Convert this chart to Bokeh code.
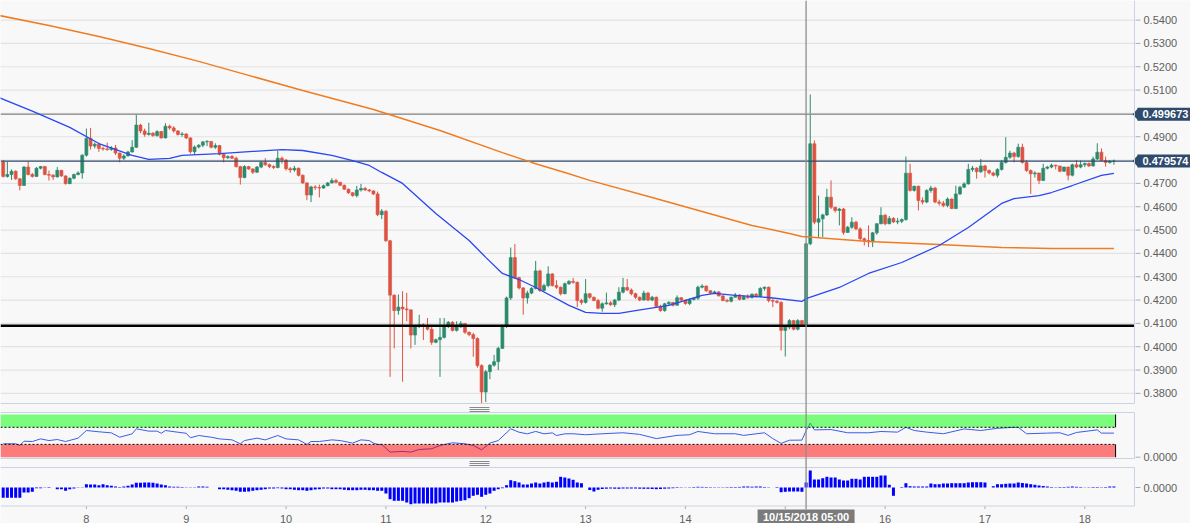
from bokeh.plotting import figure
from bokeh.models import Range1d, ColumnDataSource
from bokeh.core.properties import value
from bokeh.embed import file_html
from bokeh.resources import INLINE

# ---------------- DATA (hourly candles, hour 0 = 10/07/2018 04:00) ----------------
first_open = 0.4792
closes = [
    0.4730, 0.4738, 0.4752, 0.4720, 0.4691, 0.4770, 0.4738, 0.4730, 0.4765, 0.4772, 0.4738, 0.4735,
    0.4728, 0.4756, 0.4732, 0.4699, 0.4722, 0.4738, 0.4745, 0.4821, 0.4893, 0.4860, 0.4868, 0.4850,
    0.4848, 0.4845, 0.4852, 0.4830, 0.4808, 0.4818, 0.4835, 0.4855, 0.4950, 0.4925, 0.4910, 0.4915,
    0.4905, 0.4922, 0.4895, 0.4945, 0.4938, 0.4925, 0.4910, 0.4912, 0.4895, 0.4836, 0.4856, 0.4864,
    0.4878, 0.4880, 0.4855, 0.4862, 0.4825, 0.4810, 0.4815, 0.4808, 0.4772, 0.4725, 0.4772, 0.4762,
    0.4748, 0.4770, 0.4790, 0.4780, 0.4772, 0.4768, 0.4808, 0.4800, 0.4763, 0.4758, 0.4765, 0.4735,
    0.4702, 0.4650, 0.4685, 0.4682, 0.4680, 0.4690, 0.4702, 0.4712, 0.4705, 0.4692, 0.4675, 0.4660,
    0.4648, 0.4672, 0.4678, 0.4672, 0.4668, 0.4655, 0.4566, 0.4581, 0.4454, 0.4221, 0.4155, 0.4170,
    0.4162, 0.4158, 0.4050, 0.4087, 0.4094, 0.4088, 0.4075, 0.4019, 0.4030, 0.4040, 0.4087, 0.4105,
    0.4070, 0.4085, 0.4100, 0.4062, 0.4052, 0.4035, 0.3919, 0.3806, 0.3893, 0.3921, 0.3936, 0.3993,
    0.4087, 0.4209, 0.4382, 0.4296, 0.4252, 0.4209, 0.4230, 0.4250, 0.4325, 0.4241, 0.4262, 0.4312,
    0.4262, 0.4255, 0.4227, 0.4270, 0.4280, 0.4276, 0.4198, 0.4190, 0.4227, 0.4212, 0.4198, 0.4165,
    0.4184, 0.4188, 0.4180, 0.4200, 0.4234, 0.4254, 0.4243, 0.4227, 0.4212, 0.4200, 0.4230, 0.4200,
    0.4212, 0.4173, 0.4155, 0.4184, 0.4190, 0.4178, 0.4210, 0.4200, 0.4185, 0.4202, 0.4208, 0.4255,
    0.4260, 0.4240, 0.4230, 0.4235, 0.4218, 0.4198, 0.4195, 0.4212, 0.4222, 0.4203, 0.4215, 0.4210,
    0.4225, 0.4215, 0.4250, 0.4255, 0.4198, 0.4195, 0.4190, 0.4070, 0.4084, 0.4112, 0.4075, 0.4112,
    0.4095, 0.4441, 0.4870, 0.4534, 0.4548, 0.4565, 0.4641, 0.4598, 0.4584, 0.4590, 0.4490, 0.4512,
    0.4534, 0.4505, 0.4463, 0.4455, 0.4450, 0.4488, 0.4527, 0.4563, 0.4527, 0.4550, 0.4535, 0.4538,
    0.4545, 0.4744, 0.4670, 0.4688, 0.4627, 0.4620, 0.4670, 0.4680, 0.4620, 0.4615, 0.4605, 0.4633,
    0.4592, 0.4655, 0.4684, 0.4698, 0.4760, 0.4765, 0.4750, 0.4775, 0.4755, 0.4745, 0.4735, 0.4760,
    0.4790, 0.4812, 0.4830, 0.4815, 0.4855, 0.4790, 0.4755, 0.4741, 0.4745, 0.4713, 0.4765, 0.4770,
    0.4778, 0.4775, 0.4752, 0.4770, 0.4735, 0.4780, 0.4770, 0.4780, 0.4785, 0.4775, 0.4805, 0.4834,
    0.4798, 0.4790, 0.4795, 0.4796,
]
highs = [
    0.4800, 0.4792, 0.4760, 0.4756, 0.4722, 0.4775, 0.4795, 0.4745, 0.4770, 0.4775, 0.4775, 0.4755,
    0.4740, 0.4770, 0.4758, 0.4735, 0.4726, 0.4742, 0.4752, 0.4825, 0.4935, 0.4938, 0.4875, 0.4875,
    0.4858, 0.4875, 0.4860, 0.4865, 0.4832, 0.4825, 0.4840, 0.4885, 0.4998, 0.4955, 0.4935, 0.4960,
    0.4920, 0.4928, 0.4925, 0.4958, 0.4952, 0.4945, 0.4928, 0.4920, 0.4915, 0.4898, 0.4862, 0.4868,
    0.4882, 0.4885, 0.4880, 0.4872, 0.4865, 0.4830, 0.4820, 0.4822, 0.4815, 0.4775, 0.4778, 0.4775,
    0.4765, 0.4775, 0.4795, 0.4808, 0.4785, 0.4778, 0.4840, 0.4815, 0.4805, 0.4770, 0.4775, 0.4768,
    0.4738, 0.4705, 0.4690, 0.4692, 0.4695, 0.4695, 0.4706, 0.4722, 0.4720, 0.4705, 0.4695, 0.4678,
    0.4662, 0.4690, 0.4698, 0.4685, 0.4676, 0.4670, 0.4665, 0.4590, 0.4585, 0.4458, 0.4224, 0.4224,
    0.4238, 0.4231, 0.4160, 0.4094, 0.4137, 0.4100, 0.4123, 0.4085, 0.4035, 0.4123, 0.4123, 0.4110,
    0.4109, 0.4109, 0.4110, 0.4100, 0.4065, 0.4060, 0.4040, 0.3925, 0.3900, 0.3925, 0.3965, 0.4000,
    0.4095, 0.4215, 0.4425, 0.4440, 0.4300, 0.4255, 0.4240, 0.4255, 0.4368, 0.4330, 0.4270, 0.4345,
    0.4315, 0.4285, 0.4258, 0.4275, 0.4285, 0.4295, 0.4280, 0.4205, 0.4290, 0.4230, 0.4215, 0.4205,
    0.4190, 0.4232, 0.4195, 0.4205, 0.4255, 0.4295, 0.4290, 0.4250, 0.4232, 0.4215, 0.4240, 0.4235,
    0.4218, 0.4215, 0.4180, 0.4188, 0.4195, 0.4192, 0.4220, 0.4212, 0.4202, 0.4208, 0.4212, 0.4262,
    0.4268, 0.4262, 0.4242, 0.4240, 0.4238, 0.4220, 0.4205, 0.4215, 0.4230, 0.4225, 0.4220, 0.4225,
    0.4228, 0.4230, 0.4255, 0.4258, 0.4258, 0.4205, 0.4200, 0.4195, 0.4092, 0.4118, 0.4115, 0.4118,
    0.4115, 0.4445, 0.5081, 0.4884, 0.4648, 0.4570, 0.4677, 0.4713, 0.4600, 0.4595, 0.4595, 0.4518,
    0.4555, 0.4540, 0.4512, 0.4468, 0.4520, 0.4492, 0.4530, 0.4598, 0.4570, 0.4560, 0.4555, 0.4552,
    0.4550, 0.4815, 0.4784, 0.4690, 0.4690, 0.4640, 0.4675, 0.4690, 0.4685, 0.4630, 0.4625, 0.4640,
    0.4635, 0.4690, 0.4690, 0.4705, 0.4784, 0.4775, 0.4770, 0.4805, 0.4780, 0.4760, 0.4750, 0.4765,
    0.4800, 0.4898, 0.4840, 0.4835, 0.4870, 0.4870, 0.4800, 0.4760, 0.4752, 0.4745, 0.4784, 0.4775,
    0.4785, 0.4780, 0.4775, 0.4772, 0.4772, 0.4785, 0.4800, 0.4798, 0.4790, 0.4790, 0.4815, 0.4872,
    0.4850, 0.4815, 0.4800, 0.4802,
]
lows = [
    0.4725, 0.4725, 0.4715, 0.4715, 0.4670, 0.4690, 0.4735, 0.4725, 0.4728, 0.4760, 0.4735, 0.4712,
    0.4715, 0.4725, 0.4728, 0.4695, 0.4697, 0.4718, 0.4735, 0.4720, 0.4815, 0.4845, 0.4850, 0.4835,
    0.4840, 0.4840, 0.4840, 0.4822, 0.4790, 0.4800, 0.4815, 0.4832, 0.4852, 0.4915, 0.4900, 0.4905,
    0.4900, 0.4900, 0.4892, 0.4893, 0.4930, 0.4918, 0.4905, 0.4900, 0.4890, 0.4828, 0.4822, 0.4850,
    0.4855, 0.4860, 0.4850, 0.4848, 0.4820, 0.4790, 0.4805, 0.4805, 0.4768, 0.4695, 0.4722, 0.4758,
    0.4740, 0.4745, 0.4765, 0.4775, 0.4765, 0.4762, 0.4765, 0.4785, 0.4755, 0.4745, 0.4750, 0.4730,
    0.4698, 0.4628, 0.4620, 0.4672, 0.4640, 0.4678, 0.4688, 0.4700, 0.4700, 0.4688, 0.4672, 0.4655,
    0.4643, 0.4640, 0.4665, 0.4668, 0.4662, 0.4650, 0.4560, 0.4547, 0.4450, 0.3871, 0.3993, 0.4137,
    0.3850, 0.4109, 0.3993, 0.4008, 0.4080, 0.4029, 0.4070, 0.4008, 0.4015, 0.3871, 0.4035, 0.4080,
    0.4065, 0.4065, 0.4080, 0.4055, 0.4045, 0.3957, 0.3910, 0.3756, 0.3763, 0.3861, 0.3914, 0.3900,
    0.3990, 0.4080, 0.4200, 0.4290, 0.4245, 0.4137, 0.4185, 0.4225, 0.4245, 0.4235, 0.4238, 0.4255,
    0.4258, 0.4248, 0.4220, 0.4225, 0.4265, 0.4270, 0.4170, 0.4180, 0.4185, 0.4205, 0.4195, 0.4160,
    0.4150, 0.4180, 0.4175, 0.4170, 0.4195, 0.4228, 0.4238, 0.4220, 0.4205, 0.4195, 0.4198, 0.4195,
    0.4195, 0.4170, 0.4150, 0.4150, 0.4178, 0.4172, 0.4175, 0.4195, 0.4180, 0.4178, 0.4198, 0.4200,
    0.4250, 0.4235, 0.4225, 0.4226, 0.4215, 0.4195, 0.4190, 0.4190, 0.4210, 0.4198, 0.4200, 0.4205,
    0.4208, 0.4210, 0.4212, 0.4240, 0.4190, 0.4170, 0.4185, 0.3984, 0.3958, 0.4075, 0.4070, 0.4070,
    0.4088, 0.4088, 0.4435, 0.4525, 0.4470, 0.4470, 0.4560, 0.4590, 0.4575, 0.4520, 0.4480, 0.4488,
    0.4505, 0.4500, 0.4455, 0.4434, 0.4427, 0.4427, 0.4480, 0.4525, 0.4520, 0.4525, 0.4530, 0.4525,
    0.4530, 0.4540, 0.4665, 0.4665, 0.4584, 0.4610, 0.4615, 0.4660, 0.4615, 0.4605, 0.4598, 0.4598,
    0.4590, 0.4590, 0.4650, 0.4680, 0.4695, 0.4750, 0.4720, 0.4745, 0.4725, 0.4738, 0.4730, 0.4725,
    0.4755, 0.4785, 0.4805, 0.4790, 0.4810, 0.4785, 0.4750, 0.4655, 0.4725, 0.4698, 0.4710, 0.4760,
    0.4765, 0.4760, 0.4748, 0.4750, 0.4713, 0.4730, 0.4765, 0.4765, 0.4770, 0.4770, 0.4772, 0.4800,
    0.4795, 0.4772, 0.4785, 0.4780,
]

# moving averages (hour, value)
fast_ma_hours = [-1, 7, 16, 23, 31, 35, 40, 43, 52, 60, 67, 72, 79, 84, 88, 91, 96, 104, 112, 116,
                 120, 124, 128, 136, 140, 144, 148, 152, 160, 168, 171, 176, 184, 192, 193, 201, 208,
                 216, 225, 232, 240, 243, 249, 252, 257, 264, 267]
fast_ma_vals = [0.5068, 0.5010, 0.4940, 0.4871, 0.4820, 0.4803, 0.4807, 0.4820, 0.4828, 0.4837,
                0.4845, 0.4841, 0.4820, 0.4798, 0.4777, 0.4747, 0.4700, 0.4571, 0.4455, 0.4383,
                0.4314, 0.4288, 0.4254, 0.4177, 0.4147, 0.4143, 0.4143, 0.4155, 0.4177, 0.4220,
                0.4229, 0.4220, 0.4211, 0.4194, 0.4206, 0.4254, 0.4314, 0.4361, 0.4434, 0.4511,
                0.4614, 0.4635, 0.4648, 0.4661, 0.4691, 0.4734, 0.4743]
slow_ma_hours = [-1, 11, 23, 35, 47, 59, 72, 89, 105, 120, 127, 135, 141, 156, 168, 180, 189, 192,
                 208, 225, 240, 252, 267]
slow_ma_vals = [0.5420, 0.5377, 0.5330, 0.5278, 0.5223, 0.5163, 0.5098, 0.5017, 0.4927, 0.4832,
                0.4790, 0.4747, 0.4713, 0.4640, 0.4580, 0.4520, 0.4485, 0.4472, 0.4451, 0.4438,
                0.4425, 0.4421, 0.4421]

# oscillator (hour, value 0..100)
osc_hours = [0, 3, 4, 5, 7, 9, 11, 13, 15, 18, 20, 23, 26, 28, 31, 32, 35, 37, 38, 39, 42, 44, 45,
             47, 50, 52, 55, 57, 58, 61, 63, 66, 68, 71, 73, 74, 76, 79, 81, 84, 86, 88, 89, 90, 91,
             93, 96, 98, 100, 103, 105, 108, 111, 113, 115, 117, 119, 122, 124, 126, 128, 130, 132,
             133, 135, 137, 140, 144, 149, 153, 157, 162, 165, 167, 171, 176, 178, 183, 185, 187,
             189, 192, 193, 194, 195, 199, 203, 208, 211, 215, 217, 219, 222, 226, 231, 235, 239,
             243, 244, 246, 251, 254, 256, 258, 263, 264, 267]
osc_vals = [31.4, 31.4, 27.4, 37.5, 36.7, 42.9, 39.0, 41.4, 36.7, 44.6, 62.5, 59.5, 57.0, 46.8,
            54.7, 66.5, 61.0, 61.0, 56.0, 62.5, 58.5, 56.0, 45.5, 50.8, 46.8, 42.9, 40.6, 31.4,
            39.0, 44.6, 40.6, 50.8, 42.9, 40.6, 29.9, 36.7, 36.7, 40.6, 39.0, 33.0, 40.6, 39.0,
            33.0, 29.9, 29.9, 12.0, 13.5, 12.0, 18.0, 19.8, 27.4, 33.8, 31.4, 27.4, 17.3, 33.0,
            39.0, 66.5, 58.5, 54.7, 60.3, 54.7, 57.0, 50.8, 54.7, 54.9, 52.6, 54.9, 57.2, 53.4,
            43.6, 51.1, 52.6, 60.2, 54.9, 54.9, 51.1, 57.2, 43.6, 32.3, 39.8, 40.0, 62.0, 79.8,
            64.0, 64.7, 57.2, 57.2, 60.2, 58.7, 70.0, 62.5, 58.7, 54.9, 66.2, 62.5, 67.7, 70.0,
            70.0, 54.9, 56.4, 57.2, 51.1, 57.9, 64.0, 56.4, 56.4]

# histogram, one value per hour (units of 0.0001)
hist = [
    -10.3, -10.3, -10.3, -10.3, -10.3, -5.0, -5.0, -4.3, -0.7, -0.7, -0.3, 0.5,
    0.0, -1.7, -1.7, -3.3, -1.7, -1.0, -0.3, 0.3, 3.3, 3.0, 3.0, 2.3,
    3.3, 2.3, 1.7, 1.0, 0.5, 1.0, 1.7, 3.0, 4.7, 4.7, 5.0, 5.0,
    4.7, 4.0, 3.0, 2.3, 1.0, 0.7, 0.7, 0.5, 0.3, 0.3, 0.2, 1.0,
    1.0, 0.8, 0.0, 0.0, -1.7, -1.7, -2.3, -2.7, -3.3, -4.3, -4.3, -4.0,
    -3.3, -2.7, -2.3, -1.7, -1.0, -1.0, -0.7, -1.0, -1.7, -1.7, -2.3, -2.7,
    -2.7, -3.3, -2.7, -2.0, -1.7, -1.0, -1.0, -1.7, -1.7, -1.7, -2.3, -2.7,
    -2.7, -2.7, -2.3, -2.3, -2.7, -2.7, -3.3, -3.3, -6.0, -11.7, -13.3, -13.3,
    -13.3, -15.0, -16.7, -16.0, -16.0, -16.0, -16.0, -16.0, -16.0, -15.0, -15.0, -15.0,
    -15.0, -14.0, -13.3, -12.7, -10.7, -8.3, -7.3, -9.3, -7.3, -6.0, -3.3, -1.7,
    -0.7, 2.3, 7.3, 6.3, 5.0, 3.0, 3.0, 4.0, 5.0, 4.0, 5.0, 5.7,
    5.0, 5.7, 10.7, 10.0, 9.0, 7.7, 5.0, 4.3, 0.0, -2.5, -4.0, -2.3,
    -1.5, -1.2, -1.0, -1.2, -1.3, -1.0, -1.0, -1.0, -1.0, -1.2, -1.3, -1.3,
    -1.5, -1.7, -1.5, -1.2, -1.0, -0.7, -0.5, -0.3, 0.2, 0.3, 0.5, 0.7,
    0.6, 0.5, 0.4, 0.3, 0.3, 0.3, 0.4, 0.5, 0.5, 0.6, 1.0, 1.0,
    0.8, 1.0, 1.0, 0.5, 0.3, 0.0, -0.5, -4.7, -4.3, -4.0, -4.0, -4.0,
    -4.3, 5.0, 17.0, 8.0, 8.0, 9.3, 10.7, 10.0, 10.0, 8.0, 7.0, 7.0,
    8.7, 8.7, 8.0, 10.7, 10.7, 10.7, 10.7, 12.0, 12.0, 2.7, -8.3, 0.0,
    0.5, 4.3, 1.3, 1.0, 1.0, 1.0, 1.0, 4.0, 3.3, 3.3, 4.0, 4.0,
    4.3, 4.3, 4.3, 4.3, 5.0, 5.3, 5.3, 5.3, 5.0, 0.0, 1.3, 3.3,
    3.3, 3.7, 4.0, 4.0, 5.0, 4.5, 4.0, 3.3, 2.7, 2.0, 1.5, 1.0,
    0.5, 0.3, 0.5, 0.5, 0.7, 1.0, 0.7, 0.5, 0.2, -0.3, -0.5, -0.5,
    0.3, 0.5, 1.0, 1.0,
]

price_ticks = [0.38, 0.39, 0.40, 0.41, 0.42, 0.43, 0.44, 0.45, 0.46, 0.47, 0.48, 0.49,
               0.50, 0.51, 0.52, 0.53, 0.54]
day_tick_hours = [20, 44, 68, 92, 116, 140, 164, 188, 212, 236, 260]
day_tick_labels = ["8", "9", "10", "11", "12", "13", "14", "", "16", "17", "18"]
level_high = 0.499673
level_last = 0.479574
level_support = 0.4090
osc_upper, osc_lower, osc_top = 70, 30, 100
cross_hour = 193
cross_text = "10/15/2018 05:00"

# ---------------- STYLE / GEOMETRY ----------------
BG = "#f8f8f8"
FRAME = "#cbd2e3"
GREEN = "#2b8a6b"
RED = "#dc5341"
NAVY = "#2e4a6d"
LBL = "#5e5e5e"
TICKC = "#a6adbd"
FONT = "Liberation Sans"
W, H = 1190, 523
PLOT_R = 1134            # right edge of the panels (px)
MAIN_B = 403             # bottom of price panel (px)
P1_T, P1_B = 412, 458    # oscillator panel (px)
P2_T, P2_B = 467, 505.5  # histogram panel (px)


def hx(px):   # canvas x (px) -> hour
    return (px - 2.7) / 4.16


def py(ypx):  # canvas y (px) -> price
    return 0.54 - (ypx - 19.6) / 2333.0


def oy(ypx):  # canvas y (px) -> oscillator value
    return (456.7 - ypx) / 0.427


def hy(ypx):  # canvas y (px) -> histogram value
    return 487.0 - ypx


p = figure(frame_width=W, frame_height=H, x_range=Range1d(hx(0), hx(W)),
           y_range=Range1d(py(H), py(0)), output_backend="svg", toolbar_location=None,
           min_border_left=0, min_border_right=0, min_border_top=0, min_border_bottom=0,
           x_axis_location=None, y_axis_location=None, outline_line_color=None,
           background_fill_color=BG, border_fill_color=BG)
p.extra_y_ranges = {"osc": Range1d(oy(H), oy(0)), "hist": Range1d(hy(H), hy(0))}
p.grid.visible = False

txt = dict(text_font=value(FONT), text_font_size="11px", text_baseline="middle")

# ---- price panel: grid, ticks, labels ----
n = len(price_ticks)
p.segment(x0=[hx(0)] * n, y0=price_ticks, x1=[hx(PLOT_R)] * n, y1=price_ticks,
          line_color="#e3e3e3", line_width=1.2)
p.segment(x0=[hx(PLOT_R + 1)] * n, y0=price_ticks, x1=[hx(PLOT_R + 6)] * n, y1=price_ticks,
          line_color=TICKC, line_width=1)
p.text(x=[hx(PLOT_R + 9)] * n, y=price_ticks, text=[f"{t:.4f}" for t in price_ticks],
       text_color=LBL, text_align="left", **txt)

# ---- candles ----
hours = list(range(len(closes)))
opens = [first_open] + closes[:-1]
body_top = [max(o, c) for o, c in zip(opens, closes)]
body_bot = [min(o, c) for o, c in zip(opens, closes)]
hi = [max(h, t) for h, t in zip(highs, body_top)]
lo = [min(l, b) for l, b in zip(lows, body_bot)]
colors = [GREEN if c >= o else RED for o, c in zip(opens, closes)]
src = ColumnDataSource(dict(x=hours, top=body_top, bottom=body_bot, hi=hi, lo=lo, color=colors))
p.segment(x0="x", y0="lo", x1="x", y1="hi", line_color="color", line_width=1, source=src)
p.vbar(x="x", top="top", bottom="bottom", width=0.72, fill_color="color",
       line_color="color", line_width=0.6, source=src)

# ---- level lines ----
p.segment(x0=[hx(0)], y0=[level_high], x1=[hx(PLOT_R)], y1=[level_high],
          line_color="#9a9a9a", line_width=1.5)
p.segment(x0=[hx(0)], y0=[level_last], x1=[hx(PLOT_R)], y1=[level_last],
          line_color=NAVY, line_width=1.3)
p.segment(x0=[hx(0)], y0=[level_support], x1=[hx(PLOT_R)], y1=[level_support],
          line_color="black", line_width=2.5)

# ---- moving averages ----
p.line(slow_ma_hours, slow_ma_vals, line_color="#f07c22", line_width=1.5)
p.line(fast_ma_hours, fast_ma_vals, line_color="#2a47f2", line_width=1.3)

# ---- price tags ----
hh = 6.5 / 2333.0
for lv in (level_high, level_last):
    p.quad(left=[hx(PLOT_R + 3)], right=[hx(W + 5)], top=[lv + hh], bottom=[lv - hh],
           fill_color=NAVY, line_color=None)
    p.patch(x=[hx(PLOT_R - 2), hx(PLOT_R + 4), hx(PLOT_R + 4)], y=[lv, lv + hh, lv - hh],
            fill_color=NAVY, line_color=None)
    p.text(x=[hx(PLOT_R + 8)], y=[lv], text=[f"{lv:.6f}"], text_color="white",
           text_font_style="bold", text_align="left", **txt)

# ---- oscillator panel ----
band_right = hours[-1] + 0.4
p.line(osc_hours, osc_vals, line_color="#3a5ce8", line_width=1, y_range_name="osc")
p.quad(left=[hx(0), hx(0)], right=[band_right, band_right], top=[osc_top, osc_lower],
       bottom=[osc_upper, 0], fill_color=["#00ff00", "#ff0000"], fill_alpha=0.5,
       line_color=None, y_range_name="osc")
p.segment(x0=[hx(0), hx(0)], y0=[osc_upper, osc_lower], x1=[band_right, band_right],
          y1=[osc_upper, osc_lower], line_color="black", line_width=1, line_dash="2 2",
          y_range_name="osc")
p.segment(x0=[band_right, band_right], y0=[osc_upper, 0], x1=[band_right, band_right],
          y1=[osc_top, osc_lower], line_color="black", line_width=1, y_range_name="osc")
p.segment(x0=[hx(PLOT_R + 1)], y0=[0], x1=[hx(PLOT_R + 6)], y1=[0], line_color=TICKC,
          y_range_name="osc")
p.text(x=[hx(PLOT_R + 9)], y=[0], text=["0.0000"], text_color=LBL, text_align="left",
       y_range_name="osc", **txt)

# ---- histogram panel ----
p.vbar(x=hours, top=hist, bottom=0, width=0.72, fill_color="#0000ff", line_color=None,
       y_range_name="hist")
p.segment(x0=[hx(PLOT_R + 1)], y0=[0], x1=[hx(PLOT_R + 6)], y1=[0], line_color=TICKC,
          y_range_name="hist")
p.text(x=[hx(PLOT_R + 9)], y=[0], text=["0.0000"], text_color=LBL, text_align="left",
       y_range_name="hist", **txt)

# ---- x axis (days) ----
nd = len(day_tick_hours)
p.segment(x0=day_tick_hours, y0=[hy(P2_B)] * nd, x1=day_tick_hours, y1=[hy(P2_B + 3)] * nd,
          line_color=TICKC, y_range_name="hist")
p.text(x=day_tick_hours, y=[hy(518)] * nd, text=day_tick_labels, text_color=LBL,
       text_align="center", y_range_name="hist", **txt)

# ---- panel borders ----
p.segment(x0=[hx(0), hx(PLOT_R)], y0=[hy(MAIN_B), hy(0)], x1=[hx(PLOT_R), hx(PLOT_R)],
          y1=[hy(MAIN_B), hy(MAIN_B)], line_color=FRAME, line_width=1, y_range_name="hist")
for top_px, bot_px in ((P1_T, P1_B), (P2_T, P2_B)):
    p.segment(x0=[hx(0), hx(0), hx(PLOT_R)], y0=[hy(top_px), hy(bot_px), hy(top_px)],
              x1=[hx(PLOT_R), hx(PLOT_R), hx(PLOT_R)], y1=[hy(top_px), hy(bot_px), hy(bot_px)],
              line_color=FRAME, line_width=1, y_range_name="hist")

# ---- panel grips ----
grip_x0, grip_x1 = hx(469), hx(489)
for gy in (407, 409, 411, 461, 463, 465):
    p.segment(x0=[grip_x0], y0=[hy(gy)], x1=[grip_x1], y1=[hy(gy)], line_color="#8a8a8a",
              line_width=1, y_range_name="hist")

# ---- crosshair ----
p.segment(x0=[cross_hour], y0=[hy(0)], x1=[cross_hour], y1=[hy(509)], line_color="#8e8e8e",
          line_width=1.3, y_range_name="hist")
p.rect(x=[cross_hour], y=[hy(516.3)], width=97 / 4.16, height=14.5, fill_color="#7b7b7b",
       line_color=None, y_range_name="hist")
p.text(x=[cross_hour], y=[hy(516.3)], text=[cross_text], text_color="white",
       text_font_style="bold", text_align="center", y_range_name="hist", **txt)

open("out.html", "w").write(file_html(p, INLINE))
